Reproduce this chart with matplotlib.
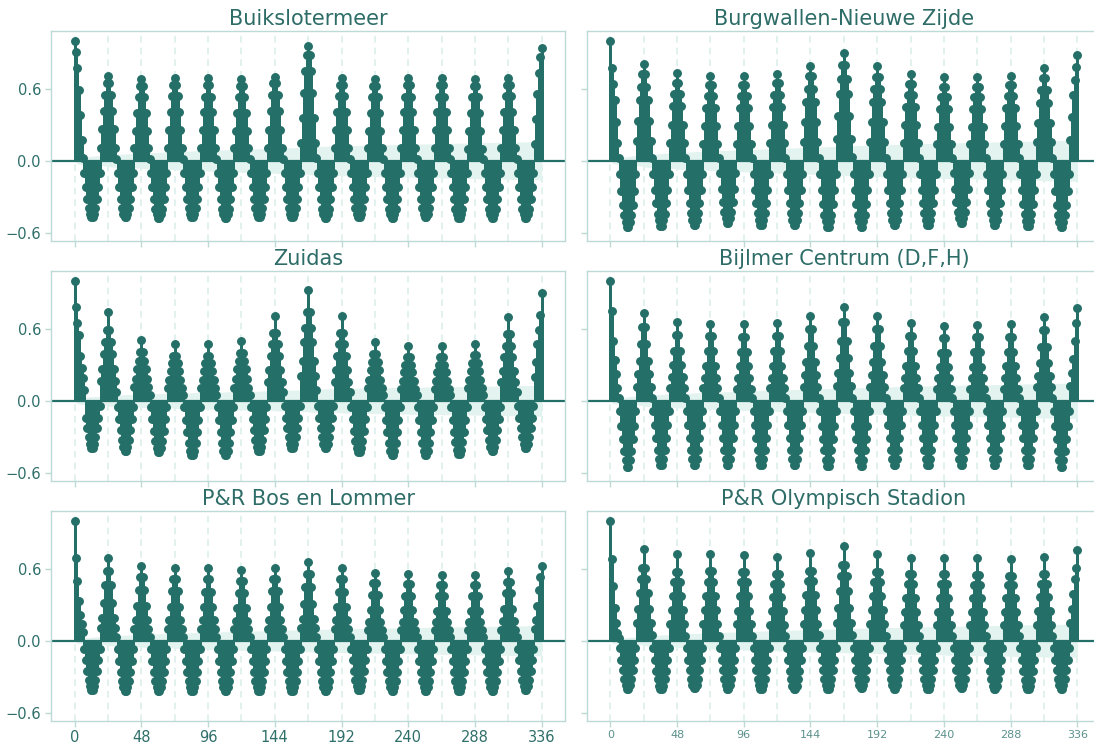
import numpy as np
import matplotlib
matplotlib.use('Agg')
import matplotlib.pyplot as plt

# ACF of hourly counts, 336 lags (two weeks).
# head = lags 0..6, peaks = lags 24, 48, ..., 336, troughs = around lag 24d+12.
# rise / dip = fraction of the peak / trough at distance 0..6 / 0.5..5.5 lags.
N_LAGS = 336
NOBS = 17000

buik_head = [1.0, 0.91, 0.77, 0.59, 0.38, 0.17, 0.02]
buik_peaks = [0.705, 0.68, 0.69, 0.686, 0.68, 0.70, 0.958, 0.69, 0.68, 0.686, 0.686, 0.678, 0.69, 0.94]
buik_troughs = [-0.47, -0.47, -0.475, -0.47, -0.475, -0.47, -0.47, -0.475, -0.47, -0.475, -0.47, -0.475, -0.475, -0.475]
buik_rise = [1.0, 0.92, 0.78, 0.59, 0.37, 0.15, 0.02]
buik_dip = [1.0, 0.94, 0.84, 0.68, 0.46, 0.22]

burg_head = [1.0, 0.775, 0.64, 0.51, 0.325, 0.15, 0.02]
burg_peaks = [0.81, 0.73, 0.71, 0.705, 0.725, 0.79, 0.90, 0.786, 0.72, 0.694, 0.694, 0.705, 0.775, 0.88]
burg_troughs = [-0.556, -0.54, -0.535, -0.52, -0.535, -0.535, -0.55, -0.55, -0.535, -0.535, -0.52, -0.535, -0.545, -0.556]
burg_rise = [1.0, 0.89, 0.76, 0.62, 0.41, 0.2, 0.03]
burg_dip = [1.0, 0.92, 0.82, 0.66, 0.45, 0.2]

zuid_head = [1.0, 0.78, 0.65, 0.55, 0.37, 0.27, 0.19, 0.09]
zuid_peaks = [0.74, 0.505, 0.47, 0.47, 0.50, 0.71, 0.92, 0.71, 0.486, 0.455, 0.455, 0.475, 0.695, 0.894]
zuid_troughs = [-0.39, -0.417, -0.43, -0.453, -0.453, -0.417, -0.39, -0.39, -0.43, -0.453, -0.453, -0.444, -0.417, -0.39]
zuid_rise = [1.0, 0.80, 0.66, 0.53, 0.36, 0.22, 0.10]
zuid_dip = [1.0, 0.92, 0.78, 0.58, 0.36, 0.12]

bijl_head = [1.0, 0.747, 0.497, 0.34, 0.22, 0.11, 0.02]
bijl_peaks = [0.733, 0.653, 0.642, 0.636, 0.644, 0.708, 0.783, 0.708, 0.644, 0.625, 0.63, 0.636, 0.697, 0.775]
bijl_troughs = [-0.55, -0.535, -0.535, -0.535, -0.535, -0.535, -0.545, -0.545, -0.535, -0.535, -0.535, -0.535, -0.535, -0.55]
bijl_rise = [1.0, 0.84, 0.64, 0.45, 0.30, 0.16, 0.03]
bijl_dip = [1.0, 0.90, 0.76, 0.58, 0.38, 0.16]

bos_head = [1.0, 0.686, 0.497, 0.33, 0.214, 0.136, 0.075]
bos_peaks = [0.686, 0.625, 0.608, 0.603, 0.586, 0.608, 0.658, 0.603, 0.561, 0.553, 0.547, 0.547, 0.58, 0.625]
bos_troughs = [-0.41, -0.415, -0.415, -0.415, -0.415, -0.415, -0.415, -0.415, -0.41, -0.415, -0.415, -0.415, -0.415, -0.41]
bos_rise = [1.0, 0.85, 0.68, 0.46, 0.28, 0.16, 0.05]
bos_dip = [1.0, 0.93, 0.80, 0.62, 0.40, 0.16]

olym_head = [1.0, 0.678, 0.456, 0.275, 0.144, 0.067, 0.02]
olym_peaks = [0.761, 0.72, 0.722, 0.714, 0.697, 0.728, 0.789, 0.72, 0.692, 0.692, 0.686, 0.678, 0.70, 0.756]
olym_troughs = [-0.40, -0.402, -0.398, -0.40, -0.40, -0.402, -0.40, -0.398, -0.40, -0.40, -0.398, -0.402, -0.405, -0.40]
olym_rise = [1.0, 0.80, 0.68, 0.52, 0.35, 0.19, 0.06]
olym_dip = [1.0, 0.93, 0.80, 0.62, 0.40, 0.15]

titles = ['Buikslotermeer', 'Burgwallen-Nieuwe Zijde', 'Zuidas',
          'Bijlmer Centrum (D,F,H)', 'P&R Bos en Lommer', 'P&R Olympisch Stadion']

panels = [
    (buik_head, buik_peaks, buik_troughs, buik_rise, buik_dip),
    (burg_head, burg_peaks, burg_troughs, burg_rise, burg_dip),
    (zuid_head, zuid_peaks, zuid_troughs, zuid_rise, zuid_dip),
    (bijl_head, bijl_peaks, bijl_troughs, bijl_rise, bijl_dip),
    (bos_head, bos_peaks, bos_troughs, bos_rise, bos_dip),
    (olym_head, olym_peaks, olym_troughs, olym_rise, olym_dip),
]

DARK = '#246f67'
BAND = '#e3f3ef'
VLINE = '#dcefeb'
SPINE = '#bddbd6'
LABEL = '#2f6f69'


def build_acf(head, peaks, troughs, rise, dip):
    vals = np.zeros(N_LAGS + 1)
    for d in range(len(troughs)):
        base = 24 * d
        for j, f in enumerate(dip):
            vals[base + 12 - j] = troughs[d] * f
            vals[base + 13 + j] = troughs[d] * f
    for d, p in enumerate(peaks):
        c = 24 * (d + 1)
        vals[c] = p
        for j in range(1, len(rise)):
            if j < 6:
                vals[c - j] = p * rise[j]
            if c + j <= N_LAGS:
                vals[c + j] = p * rise[j]
    vals[:len(head)] = head
    return vals


def bartlett_band(acf, nobs):
    var = np.ones(len(acf)) / nobs
    var[0] = 0
    var[1] = 1.0 / nobs
    var[2:] *= 1 + 2 * np.cumsum(acf[1:-1] ** 2)
    return 1.96 * np.sqrt(var)


W, H = 1094, 744
fig = plt.figure(figsize=(W / 100, H / 100), dpi=100)

col_x = [51.3, 587.0]
ax_w = 513.7
row_bottom = [241.0, 481.0, 721.0]
ax_h = 210.0
lags = np.arange(N_LAGS + 1)

for i, (title, data) in enumerate(zip(titles, panels)):
    row, col = divmod(i, 2)
    ax = fig.add_axes([col_x[col] / W, 1 - row_bottom[row] / H, ax_w / W, ax_h / H])
    acf = build_acf(*data)
    band = bartlett_band(acf, NOBS)

    for v in range(0, N_LAGS + 1, 24):
        ax.axvline(v, color=VLINE, lw=1.2, ls=(0, (4, 3)), zorder=0)
    ax.fill_between(lags, -band, band, color=BAND, lw=0, zorder=1)
    ax.axhline(0, color=DARK, lw=1.6, zorder=2)
    ax.vlines(lags, 0, acf, color=DARK, lw=1.8, zorder=3, antialiased=False)
    ax.plot(lags, acf, 'o', color=DARK, ms=5.4, zorder=4)

    ax.set_xlim(-16.8, 352.8)
    ax.set_ylim(-0.669, 1.081)
    ax.set_xticks(range(0, N_LAGS + 1, 48))
    ax.set_yticks([-0.6, 0.0, 0.6])
    ax.set_title(title, fontsize=15, color='#2d6c67', pad=4)

    for s in ax.spines.values():
        s.set_color(SPINE)
        s.set_linewidth(1.0)
    ax.tick_params(colors=SPINE, length=4, width=1.0)
    ax.tick_params(axis='x', pad=2.5)

    if col == 0:
        ax.set_yticklabels(['\u22120.6', '0.0', '0.6'], fontsize=10.5, color=LABEL)
    else:
        ax.set_yticklabels([])
    if row == 2:
        if col == 0:
            ax.tick_params(axis='x', labelsize=10.5, labelcolor=LABEL)
        else:
            ax.tick_params(axis='x', labelsize=8, labelcolor='#5b918c')
    else:
        ax.set_xticklabels([])
    if col == 0:
        ax.tick_params(axis='y', labelcolor=LABEL)

fig.savefig('out.png', dpi=100)
